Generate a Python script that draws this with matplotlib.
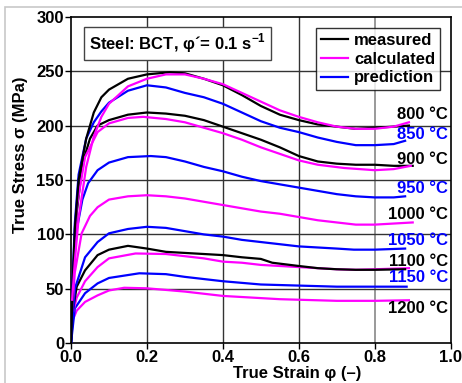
import numpy as np
import matplotlib
matplotlib.use("Agg")
import matplotlib.pyplot as plt
from matplotlib.patches import Rectangle

plt.rcParams['font.family'] = ['Liberation Sans', 'DejaVu Sans']
plt.rcParams['font.weight'] = 'bold'
plt.rcParams['mathtext.fontset'] = 'custom'
plt.rcParams['mathtext.bf'] = 'Liberation Sans:bold'
plt.rcParams['mathtext.rm'] = 'Liberation Sans:bold'

FS = 12

# Curves: (strain, stress in MPa)
m800_x = [0, 0.005, 0.01, 0.02, 0.04, 0.06, 0.08, 0.1, 0.15, 0.2, 0.26, 0.3, 0.35, 0.4, 0.45,
          0.5, 0.55, 0.6, 0.65, 0.7, 0.75, 0.8, 0.85, 0.89]
m800_y = [0, 60, 105, 150, 188, 212, 226, 233, 243, 247, 249, 248, 243, 237, 228,
          218, 210, 205, 201, 199, 197, 198, 199, 200]

c800_x = [0.003, 0.01, 0.02, 0.04, 0.06, 0.08, 0.1, 0.15, 0.2, 0.25, 0.3, 0.35, 0.4, 0.45,
          0.5, 0.55, 0.6, 0.65, 0.7, 0.75, 0.8, 0.85, 0.89]
c800_y = [40, 75, 115, 162, 190, 208, 220, 236, 243, 247, 247, 243, 238, 230,
          222, 214, 208, 203, 199, 197, 197, 199, 203]

p850_x = [0, 0.005, 0.01, 0.02, 0.04, 0.06, 0.08, 0.1, 0.15, 0.2, 0.25, 0.3, 0.35, 0.4, 0.45,
          0.5, 0.55, 0.6, 0.65, 0.7, 0.75, 0.8, 0.85, 0.88]
p850_y = [0, 65, 110, 155, 188, 203, 213, 221, 232, 237, 235, 230, 226, 220, 212,
          204, 198, 194, 189, 185, 182, 182, 183, 186]

m900_x = [0, 0.005, 0.015, 0.03, 0.05, 0.07, 0.1, 0.15, 0.2, 0.25, 0.3, 0.35, 0.4, 0.45,
          0.5, 0.55, 0.6, 0.65, 0.7, 0.75, 0.8, 0.85, 0.9]
m900_y = [0, 60, 120, 165, 188, 200, 205, 210, 212, 211, 209, 205, 199, 193,
          187, 180, 172, 167, 165, 164, 164, 163, 163]

c900_x = [0.003, 0.015, 0.037, 0.07, 0.1, 0.15, 0.19, 0.25, 0.3, 0.35, 0.4, 0.45,
          0.5, 0.55, 0.6, 0.65, 0.72, 0.8, 0.85, 0.895]
c900_y = [35, 125, 171, 194, 202, 207, 208, 206, 203, 198, 193, 187,
          180, 174, 168, 164, 161, 159, 160, 163]

p950_x = [0, 0.01, 0.03, 0.045, 0.07, 0.1, 0.15, 0.21, 0.25, 0.3, 0.35, 0.4, 0.45,
          0.5, 0.55, 0.6, 0.65, 0.7, 0.75, 0.8, 0.85, 0.88]
p950_y = [0, 95, 132, 147, 159, 166, 171, 172, 171, 167, 162, 158, 153,
          149, 146, 143, 140, 137, 135, 134, 134, 135]

c1000_x = [0.003, 0.01, 0.028, 0.05, 0.07, 0.1, 0.15, 0.2, 0.25, 0.3, 0.35, 0.4, 0.45,
           0.5, 0.55, 0.6, 0.65, 0.7, 0.75, 0.8, 0.85, 0.9]
c1000_y = [30, 65, 101, 117, 125, 132, 135, 136, 135, 133, 130, 127, 124,
           121, 119, 116, 113, 111, 109, 109, 110, 111]

p1050_x = [0, 0.01, 0.037, 0.07, 0.1, 0.15, 0.2, 0.25, 0.3, 0.35, 0.4, 0.45,
           0.5, 0.55, 0.6, 0.65, 0.7, 0.745, 0.8, 0.88]
p1050_y = [0, 50, 79, 93, 101, 105, 107, 106, 103, 100, 98, 95,
           93, 91, 89, 88, 87, 86, 86, 87]

m1100_x = [0, 0.005, 0.015, 0.037, 0.07, 0.1, 0.15, 0.2, 0.25, 0.3, 0.35, 0.4, 0.45,
           0.5, 0.53, 0.6, 0.65, 0.7, 0.75, 0.8, 0.88]
m1100_y = [0, 30, 52, 67, 81, 86, 89.5, 87, 84, 83, 82, 81, 79,
           77.5, 74, 71, 69, 68, 67.5, 67.5, 68]

c1100_x = [0.003, 0.015, 0.037, 0.07, 0.1, 0.17, 0.25, 0.3, 0.35, 0.4, 0.45,
           0.5, 0.55, 0.6, 0.65, 0.7, 0.75, 0.8, 0.89]
c1100_y = [25, 42, 57, 70, 78, 82.5, 82, 80, 78, 75, 74,
           72, 71, 70, 69, 68, 67.5, 68, 69]

p1150_x = [0, 0.01, 0.037, 0.07, 0.1, 0.18, 0.25, 0.3, 0.35, 0.4, 0.45,
           0.5, 0.55, 0.6, 0.65, 0.7, 0.75, 0.8, 0.884]
p1150_y = [0, 32, 46, 55, 60, 64.3, 63.5, 61, 59, 57, 55.5,
           54, 53.5, 53, 52.5, 52, 52, 52, 52]

c1200_x = [0.003, 0.015, 0.037, 0.07, 0.1, 0.14, 0.2, 0.25, 0.3, 0.35, 0.4, 0.45,
           0.5, 0.55, 0.6, 0.65, 0.7, 0.8, 0.89]
c1200_y = [20, 30, 38, 44, 48.5, 51, 50.5, 49, 47.5, 45.5, 43.5, 42.5,
           41.5, 40.5, 40, 39.5, 39, 39, 39.5]

temp_labels = ['800 °C', '850 °C', '900 °C', '950 °C', '1000 °C',
               '1050 °C', '1100 °C', '1150 °C', '1200 °C']
temp_label_y = [210, 192, 169, 142.5, 118.5, 94, 75.5, 60, 31.5]
temp_label_col = ['black', 'blue', 'black', 'blue', 'black',
                  'blue', 'black', 'blue', 'black']

MAG = '#ff00ff'
BLU = '#0000ff'

fig = plt.figure(figsize=(4.62, 3.83), dpi=100)
ax = fig.add_axes([0.1537, 0.1037, 0.8218, 0.8527])

# thin grey frame around the figure
fig.patches.append(Rectangle((5 / 462, -0.01), 1.1, (383 - 7) / 383 + 0.01,
                             transform=fig.transFigure, fill=False,
                             edgecolor='#c8c8c8', linewidth=1.2))

ax.set_xlim(0, 1.0)
ax.set_ylim(0, 300)
ax.set_xticks(np.arange(0, 1.01, 0.2))
ax.set_yticks(np.arange(0, 301, 50))
ax.set_xticklabels(['0.0', '0.2', '0.4', '0.6', '0.8', '1.0'])

for gx in [0.2, 0.4, 0.6]:
    ax.axvline(gx, color='#333333', lw=1, zorder=1)
ax.axvline(0.8, color='#888888', lw=1.2, zorder=1)
for gy in [50, 100, 150, 200, 250]:
    ax.axhline(gy, color='#333333', lw=1, zorder=1)

lw = 1.6
ax.plot(c1200_x, c1200_y, color=MAG, lw=lw, zorder=3)
ax.plot(p1150_x, p1150_y, color=BLU, lw=lw, zorder=3)
ax.plot(c1100_x, c1100_y, color=MAG, lw=lw, zorder=3)
ax.plot(m1100_x, m1100_y, color='black', lw=lw, zorder=3)
ax.plot(p1050_x, p1050_y, color=BLU, lw=lw, zorder=3)
ax.plot(c1000_x, c1000_y, color=MAG, lw=lw, zorder=3)
ax.plot(p950_x, p950_y, color=BLU, lw=lw, zorder=3)
ax.plot(m900_x, m900_y, color='black', lw=lw, zorder=3)
ax.plot(c900_x, c900_y, color=MAG, lw=lw, zorder=3)
ax.plot(p850_x, p850_y, color=BLU, lw=lw, zorder=3)
ax.plot(m800_x, m800_y, color='black', lw=lw, zorder=3, label='measured')
ax.plot(c800_x, c800_y, color=MAG, lw=lw, zorder=3, label='calculated')
ax.plot([], [], color=BLU, lw=lw, label='prediction')

for lab, yy, col in zip(temp_labels, temp_label_y, temp_label_col):
    ax.text(0.993, yy, lab, color=col, fontsize=FS, fontweight='bold',
            ha='right', va='center', zorder=4)

leg = ax.legend(loc='upper right', bbox_to_anchor=(0.972, 0.965), fontsize=FS,
                frameon=True, fancybox=False, handlelength=1.6, handletextpad=0.35,
                borderpad=0.3, labelspacing=0.22, borderaxespad=0)
leg.get_frame().set_edgecolor('black')
leg.get_frame().set_linewidth(1.0)
for t in leg.get_texts():
    t.set_fontweight('bold')

ax.text(0.047, 0.918, 'Steel: BCT, φ´= 0.1 s$^{\\mathbf{-1}}$', transform=ax.transAxes,
        fontsize=FS, fontweight='bold', ha='left', va='center', zorder=5,
        bbox=dict(boxstyle='square,pad=0.3', facecolor='white',
                  edgecolor='#444444', linewidth=1.0))

ax.set_xlabel('True Strain φ (–)', fontsize=FS, fontweight='bold')
ax.set_ylabel('True Stress σ (MPa)', fontsize=FS, fontweight='bold')
ax.xaxis.set_label_coords(0.597, -0.07)
ax.yaxis.set_label_coords(-0.113, 0.576)
ax.tick_params(axis='both', labelsize=FS, length=4, width=1, direction='out', pad=1)
for lbl in ax.get_xticklabels() + ax.get_yticklabels():
    lbl.set_fontweight('bold')
for sp in ax.spines.values():
    sp.set_linewidth(1.2)

fig.savefig('out.png', dpi=100)
